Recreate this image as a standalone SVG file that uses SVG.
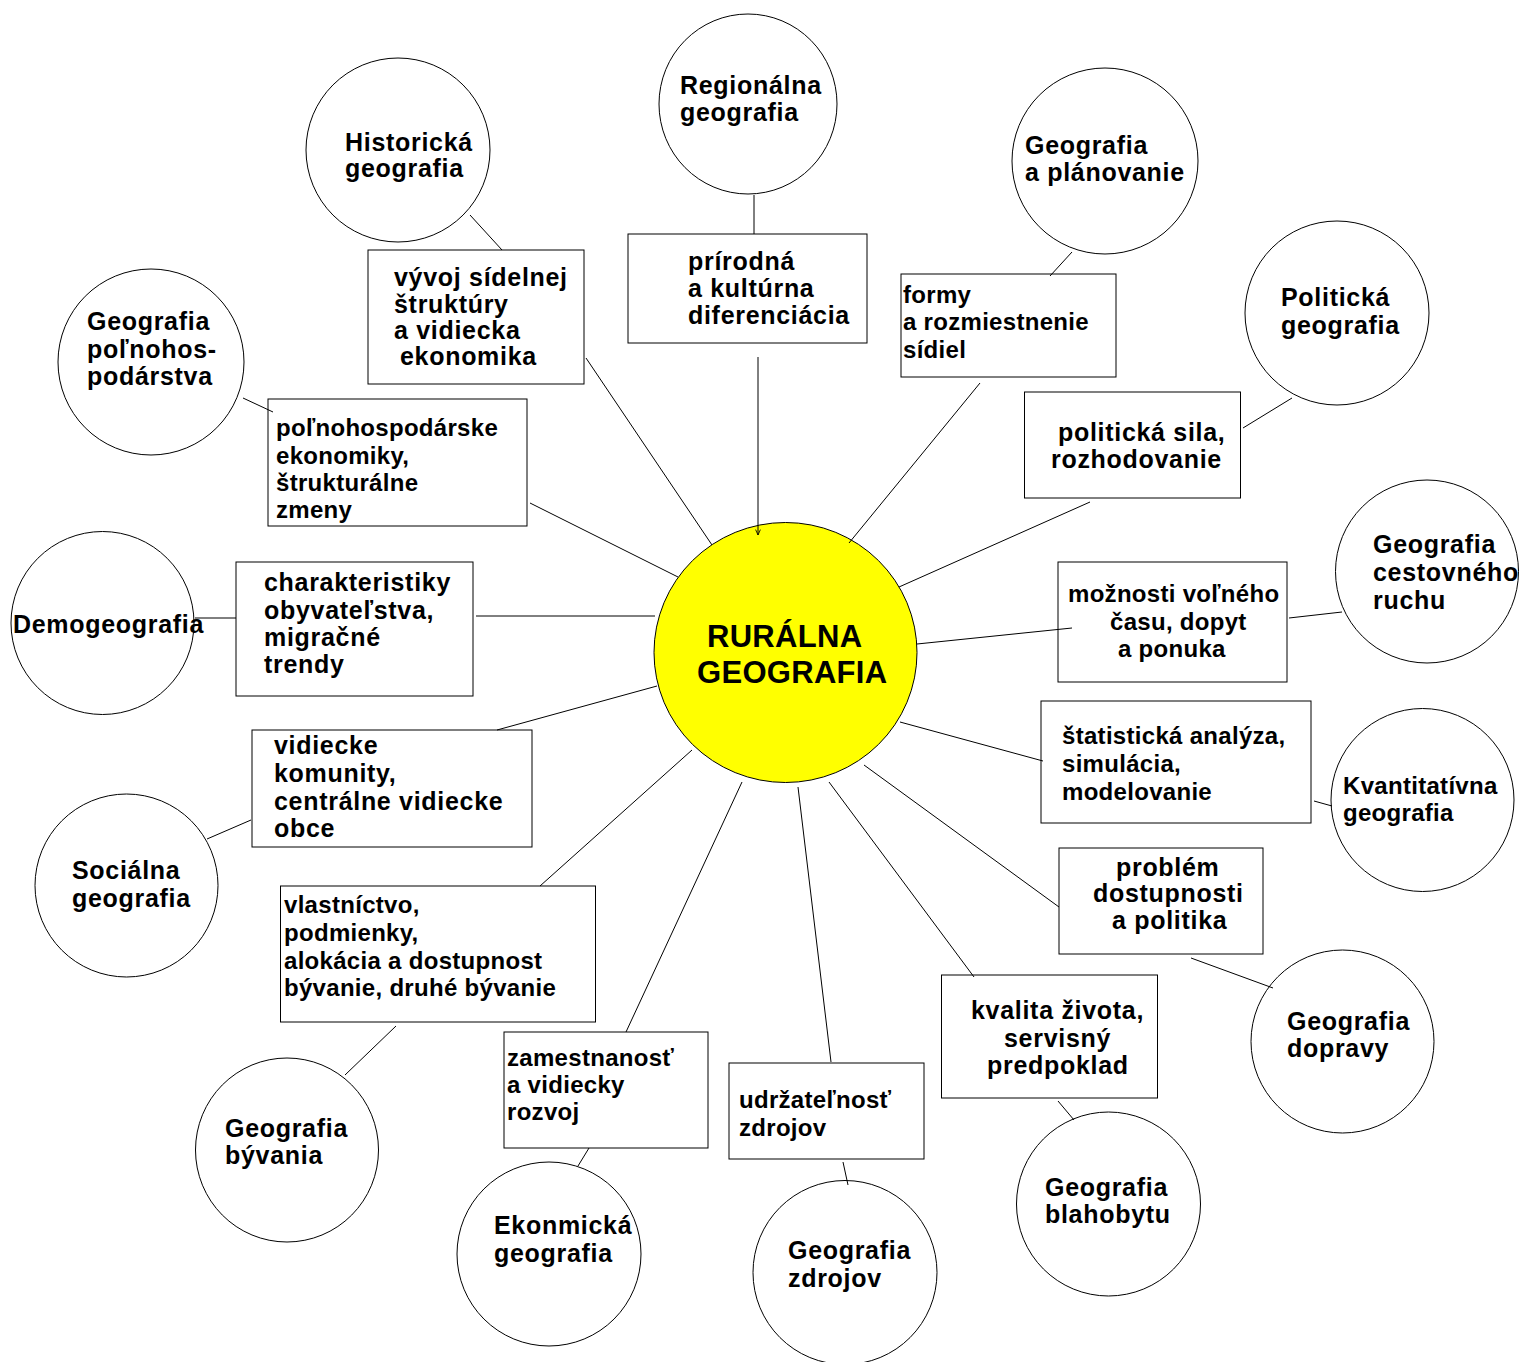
<svg xmlns="http://www.w3.org/2000/svg" width="1530" height="1362" viewBox="0 0 1530 1362">
<defs>
<style>
.node ellipse, .node rect { fill:#ffffff; stroke:#000000; stroke-width:1; }
#center ellipse { fill:#ffff00; stroke:#000000; stroke-width:1; }
text { font-family:"Liberation Sans", Arial, sans-serif; font-weight:bold; font-size:24px; fill:#000000; }
.w { font-size:25px; letter-spacing:0.7px; }
.t { letter-spacing:0.3px; }
.c { font-size:31px; letter-spacing:0.3px; }
#connectors line { stroke:#000000; stroke-width:1; fill:none; }
</style>
<marker id="arr" viewBox="0 0 10 10" refX="10" refY="5" markerWidth="6" markerHeight="6" markerUnits="userSpaceOnUse" orient="auto">
<path d="M1,1 L10,5 L1,9" fill="none" stroke="#000000" stroke-width="1.4"/>
</marker>
</defs>
<rect x="0" y="0" width="1530" height="1362" fill="#ffffff"/>

<g id="center">
<ellipse cx="785.5" cy="652.5" rx="131.5" ry="130"/>
<text class="c" x="707" y="647">RURÁLNA</text>
<text class="c" x="697" y="683">GEOGRAFIA</text>
</g>

<g id="n-regionalna" class="node">
<ellipse cx="748" cy="104" rx="89" ry="90"/>
<text class="w" x="680" y="94">Regionálna</text>
<text class="w" x="680" y="121">geografia</text>
</g>
<g id="n-historicka" class="node">
<ellipse cx="398" cy="150" rx="92" ry="92"/>
<text class="w" x="345" y="151">Historická</text>
<text class="w" x="345" y="177">geografia</text>
</g>
<g id="n-planovanie" class="node">
<ellipse cx="1105" cy="161" rx="93" ry="93"/>
<text class="w" x="1025" y="154">Geografia</text>
<text class="w" x="1025" y="181">a plánovanie</text>
</g>
<g id="n-politicka" class="node">
<ellipse cx="1337" cy="313" rx="92" ry="92"/>
<text class="w" x="1281" y="306">Politická</text>
<text class="w" x="1281" y="334">geografia</text>
</g>
<g id="n-polnohosp" class="node">
<ellipse cx="151" cy="362" rx="93" ry="93"/>
<text class="w" x="87" y="330">Geografia</text>
<text class="w" x="87" y="358">poľnohos-</text>
<text class="w" x="87" y="385">podárstva</text>
</g>
<g id="n-demo" class="node">
<ellipse cx="102.5" cy="623" rx="91.5" ry="91.5"/>
<text class="w" x="13" y="633">Demogeografia</text>
</g>
<g id="n-cestovny" class="node">
<ellipse cx="1427" cy="571.5" rx="91.5" ry="91.5"/>
<text class="w" x="1373" y="553">Geografia</text>
<text class="w" x="1373" y="581">cestovného</text>
<text class="w" x="1373" y="609">ruchu</text>
</g>
<g id="n-kvantitativna" class="node">
<ellipse cx="1422.5" cy="800" rx="91.5" ry="91.5"/>
<text class="t" x="1343" y="794">Kvantitatívna</text>
<text class="t" x="1343" y="821">geografia</text>
</g>
<g id="n-socialna" class="node">
<ellipse cx="126.5" cy="885.5" rx="91.5" ry="91.5"/>
<text class="w" x="72" y="879">Sociálna</text>
<text class="w" x="72" y="907">geografia</text>
</g>
<g id="n-doprava" class="node">
<ellipse cx="1342.5" cy="1041.5" rx="91.5" ry="91.5"/>
<text class="w" x="1287" y="1030">Geografia</text>
<text class="w" x="1287" y="1057">dopravy</text>
</g>
<g id="n-byvanie" class="node">
<ellipse cx="287" cy="1150" rx="91.5" ry="92"/>
<text class="w" x="225" y="1137">Geografia</text>
<text class="w" x="225" y="1164">bývania</text>
</g>
<g id="n-blahobyt" class="node">
<ellipse cx="1108.5" cy="1204" rx="92" ry="92"/>
<text class="w" x="1045" y="1196">Geografia</text>
<text class="w" x="1045" y="1223">blahobytu</text>
</g>
<g id="n-ekonomicka" class="node">
<ellipse cx="549" cy="1254" rx="92" ry="92"/>
<text class="w" x="494" y="1234">Ekonmická</text>
<text class="w" x="494" y="1262">geografia</text>
</g>
<g id="n-zdroje" class="node">
<ellipse cx="845" cy="1272.5" rx="92" ry="92"/>
<text class="w" x="788" y="1259">Geografia</text>
<text class="w" x="788" y="1287">zdrojov</text>
</g>

<g id="b-vyvoj" class="node">
<rect x="368" y="250" width="216" height="134"/>
<text class="w" x="394" y="286">vývoj sídelnej</text>
<text class="w" x="394" y="313">štruktúry</text>
<text class="w" x="394" y="339">a vidiecka</text>
<text class="w" x="400" y="365">ekonomika</text>
</g>
<g id="b-prirodna" class="node">
<rect x="628" y="234" width="239" height="109"/>
<text class="w" x="688" y="270">prírodná</text>
<text class="w" x="688" y="297">a kultúrna</text>
<text class="w" x="688" y="324">diferenciácia</text>
</g>
<g id="b-formy" class="node">
<rect x="901" y="274" width="215" height="103"/>
<text class="t" x="903" y="303">formy</text>
<text class="t" x="903" y="330">a rozmiestnenie</text>
<text class="t" x="903" y="358">sídiel</text>
</g>
<g id="b-politicka" class="node">
<rect x="1024.5" y="392" width="216" height="106"/>
<text class="w" x="1058" y="441">politická sila,</text>
<text class="w" x="1051" y="468">rozhodovanie</text>
</g>
<g id="b-polnohosp" class="node">
<rect x="268" y="399" width="259" height="127"/>
<text class="t" x="276" y="436">poľnohospodárske</text>
<text class="t" x="276" y="464">ekonomiky,</text>
<text class="t" x="276" y="491">štrukturálne</text>
<text class="t" x="276" y="518">zmeny</text>
</g>
<g id="b-charakteristiky" class="node">
<rect x="236" y="562" width="237" height="134"/>
<text class="w" x="264" y="591">charakteristiky</text>
<text class="w" x="264" y="619">obyvateľstva,</text>
<text class="w" x="264" y="646">migračné</text>
<text class="w" x="264" y="673">trendy</text>
</g>
<g id="b-vidiecke" class="node">
<rect x="252" y="730" width="280" height="117"/>
<text class="w" x="274" y="754">vidiecke</text>
<text class="w" x="274" y="782">komunity,</text>
<text class="w" x="274" y="810">centrálne vidiecke</text>
<text class="w" x="274" y="837">obce</text>
</g>
<g id="b-vlastnictvo" class="node">
<rect x="280.5" y="886" width="315" height="136"/>
<text class="t" x="284" y="913">vlastníctvo,</text>
<text class="t" x="284" y="941">podmienky,</text>
<text class="t" x="284" y="969">alokácia a dostupnost</text>
<text class="t" x="284" y="996">bývanie, druhé bývanie</text>
</g>
<g id="b-zamestnanost" class="node">
<rect x="504" y="1032" width="204" height="116"/>
<text class="t" x="507" y="1066">zamestnanosť</text>
<text class="t" x="507" y="1093">a vidiecky</text>
<text class="t" x="507" y="1120">rozvoj</text>
</g>
<g id="b-udrzatelnost" class="node">
<rect x="729" y="1063" width="195" height="96"/>
<text class="t" x="739" y="1108">udržateľnosť</text>
<text class="t" x="739" y="1136">zdrojov</text>
</g>
<g id="b-kvalita" class="node">
<rect x="941.5" y="975" width="216" height="123"/>
<text class="w" x="971" y="1019">kvalita života,</text>
<text class="w" x="1004" y="1047">servisný</text>
<text class="w" x="987" y="1074">predpoklad</text>
</g>
<g id="b-dostupnost" class="node">
<rect x="1059" y="848" width="204" height="106"/>
<text class="w" x="1116" y="876">problém</text>
<text class="w" x="1093" y="902">dostupnosti</text>
<text class="w" x="1112" y="929">a politika</text>
</g>
<g id="b-statisticka" class="node">
<rect x="1041" y="701" width="270" height="122"/>
<text class="t" x="1062" y="744">štatistická analýza,</text>
<text class="t" x="1062" y="772">simulácia,</text>
<text class="t" x="1062" y="800">modelovanie</text>
</g>
<g id="b-volny-cas" class="node">
<rect x="1058" y="562" width="229" height="120"/>
<text class="t" x="1068" y="602">možnosti voľného</text>
<text class="t" x="1110" y="630">času, dopyt</text>
<text class="t" x="1118" y="657">a ponuka</text>
</g>

<g id="connectors">
<line x1="586" y1="358" x2="712" y2="545"/>
<line x1="758" y1="357" x2="758" y2="535" marker-end="url(#arr)"/>
<line x1="980" y1="383" x2="849" y2="543"/>
<line x1="1090" y1="502" x2="899" y2="587"/>
<line x1="530" y1="503" x2="678" y2="577"/>
<line x1="476" y1="616" x2="655" y2="616"/>
<line x1="497" y1="730" x2="657" y2="686"/>
<line x1="540" y1="886" x2="692" y2="750"/>
<line x1="626" y1="1032" x2="742" y2="782"/>
<line x1="798" y1="787" x2="831" y2="1062"/>
<line x1="829" y1="782" x2="974" y2="977"/>
<line x1="864" y1="765" x2="1059" y2="907"/>
<line x1="900" y1="722" x2="1043" y2="761"/>
<line x1="917" y1="644" x2="1072" y2="628"/>
<line x1="470" y1="215" x2="502" y2="250"/>
<line x1="754" y1="195" x2="754" y2="234"/>
<line x1="1072" y1="252" x2="1050" y2="276"/>
<line x1="1292" y1="398" x2="1243" y2="428"/>
<line x1="243" y1="398" x2="273" y2="412"/>
<line x1="195" y1="618" x2="236" y2="618"/>
<line x1="207" y1="839" x2="251" y2="820"/>
<line x1="345" y1="1075" x2="396" y2="1026"/>
<line x1="578" y1="1166" x2="589" y2="1148"/>
<line x1="843" y1="1162" x2="848" y2="1185"/>
<line x1="1058" y1="1101" x2="1074" y2="1120"/>
<line x1="1191" y1="958" x2="1273" y2="988"/>
<line x1="1314" y1="801" x2="1332" y2="806"/>
<line x1="1289" y1="618" x2="1342" y2="612"/>
</g>
</svg>
